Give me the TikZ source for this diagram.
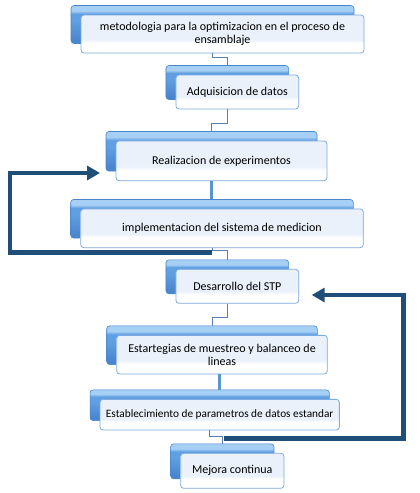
\documentclass[tikz,border=0pt]{standalone}
\usepackage{fontspec}
\setmainfont{Carlito}
\usetikzlibrary{arrows.meta,calc}
\definecolor{loopblue}{HTML}{1F4E79}
\definecolor{backtop}{HTML}{A6CFF4}
\definecolor{backmid}{HTML}{609FE2}
\definecolor{backbot}{HTML}{4A86CE}
\definecolor{frontfill}{HTML}{EAF1FA}
\definecolor{frontdraw}{HTML}{7DAAE0}
\definecolor{connline}{HTML}{5A7FAE}
\definecolor{connthick}{HTML}{5B95CF}
\pgfdeclareverticalshading{frontshade}{100bp}{color(0bp)=(white); color(38bp)=(white); color(43bp)=(frontfill); color(100bp)=(frontfill)}
\pgfdeclareverticalshading{backshade}{100bp}{color(0bp)=(backbot); color(30bp)=(backbot); color(55bp)=(backmid); color(64bp)=(backmid); color(68bp)=(backtop); color(100bp)=(backtop)}
\tikzset{
  backbox/.style={rectangle, rounded corners=3pt, shading=backshade, draw=backbot, line width=0.6pt, inner sep=0pt},
  frontbox/.style={rectangle, rounded corners=3pt, shading=frontshade, draw=frontdraw, line width=0.8pt, inner sep=0pt, align=center, font=\fontsize{12}{13}\selectfont},
  thinconn/.style={draw=connline, line width=0.9pt},
  thickconn/.style={draw=connthick, line width=2.5pt},
  loopline/.style={draw=loopblue, line width=4.5pt, -{Triangle[length=13pt,width=14pt]}},
}
\newcommand{\diagelem}[7][]{%
  \node[backbox, minimum width=#5pt, minimum height=#6pt] (#2b) at (#3-10,#4-9.5) {};
  \node[frontbox, minimum width=#5pt, minimum height=#6pt, #1] (#2) at (#3,#4) {#7};
}
\begin{document}
\begin{tikzpicture}[x=1pt,y=-1pt]
\useasboundingbox (0,0) rectangle (420,493);
\fill[white] (0,0) rectangle (420,493);

% connectors (behind boxes)
\diagelem{n1}{222.5}{34}{283}{38}{metodologia para la optimizacion en el proceso de\\ensamblaje}
\diagelem{n2}{237.3}{92}{122.7}{34}{Adquisicion de datos}
\diagelem{n3}{221.5}{160.8}{211}{39.7}{Realizacion de experimentos}
\diagelem{n4}{222}{228.3}{282.6}{38.7}{implementacion del sistema de medicion}
\diagelem{n5}{237.3}{286.3}{122.7}{34}{Desarrollo del STP}
\diagelem{n6}{222}{354.7}{210.6}{38.7}{Estartegias de muestreo y balanceo de\\lineas}
\diagelem[font=\fontsize{11.3}{13}\selectfont]{n7}{219.7}{414.7}{239.3}{30.7}{Establecimiento de parametros de datos estandar}
\diagelem{n8}{232.3}{470.8}{103.3}{35}{Mejora continua}

\draw[thinconn] (n1b.center |- n1.south) -- ++(0,4) -| (n2b.north);
\draw[thinconn] (n2b.center |- n2.south) -- ++(0,14) -| (n3b.north);
\draw[thickconn] (n3b.center |- n3.south) -- (n3b.center |- n4b.north);
\draw[thinconn] (n4b.center |- n4.south) -- ++(0,2.5) -| (n5b.north);
\draw[thinconn] (n5b.center |- n5.south) -- ++(0,13.5) -| (n6b.north);
\draw[thickconn] ([xshift=-2.5pt]n6.south) -- ([xshift=-2.5pt]n6.south |- n7b.north);
\draw[thinconn] (n7b.center |- n7.south) -- ++(0,6) -| (n8b.north);

% feedback loops
\coordinate (la) at (212,252.7);
\coordinate (lc) at (10,173);
\coordinate (ld) at (100,173);
\draw[loopline] (la) -| (lc) -- (ld);
\coordinate (ra) at (224,438.3);
\coordinate (rc) at (403.3,295);
\coordinate (rd) at (311.7,295);
\draw[loopline] (ra) -| (rc) -- (rd);
\end{tikzpicture}
\end{document}
